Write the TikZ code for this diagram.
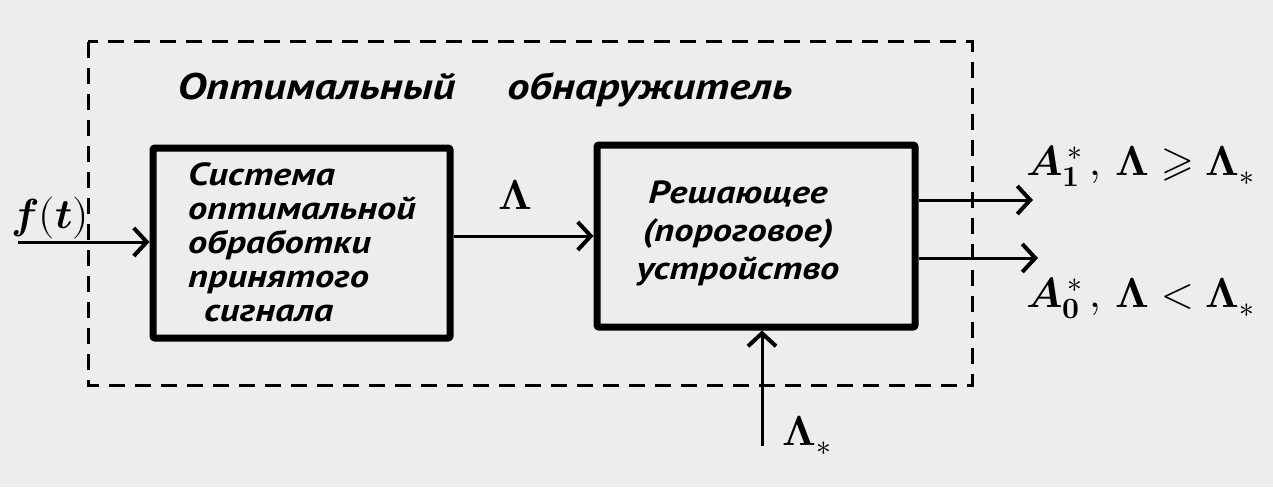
\documentclass[tikz,border=0pt]{standalone}
\usepackage{fontspec}
\usepackage{unicode-math}
\newfontfamily\hand{PT Sans}[FakeStretch=1.2]
\usetikzlibrary{arrows.meta}
\tikzset{
  blk/.style={draw, line width=7pt, rounded corners=2pt, inner sep=0pt},
  dashbox/.style={line width=3pt, dash pattern=on 16pt off 10pt},
  arr/.style={line width=3pt, -{Straight Barb[length=13pt,width=28pt,line width=4pt]}},
  boxtext/.style={font=\hand\bfseries\itshape\fontsize{32}{34}\selectfont},
  lbl/.style={font=\fontsize{42}{46}\selectfont, inner sep=0pt}
}
\begin{document}
\begin{tikzpicture}[x=1pt,y=-1pt]
\useasboundingbox (0,0) rectangle (1273,487);
\fill[white!86!gray] (0,0) rectangle (1273,487);
% dashed frame
\draw[dashbox] (88,42) rectangle (972,385);
\node[font=\hand\bfseries\itshape\fontsize{37}{40}\selectfont, inner sep=0pt] (title) at (485,90) {Оптимальный\hspace{52pt}обнаружитель};
% boxes
\node[blk, minimum width=297pt, minimum height=190pt] (b1) at (301.5,243) {};
\node[boxtext, align=left, inner sep=0pt] (t1) at (302,242) {Система\\оптимальной\\обработки\\принятого\\\hspace*{16pt}сигнала};
\node[blk, minimum width=318pt, minimum height=182pt] (b2) at (756,236) {};
\node[boxtext, align=center, inner sep=0pt] (t2) at (738,233) {Решающее\\[4pt](пороговое)\\[4pt]устройство};
% labels
\node[lbl] (ft) at (50,218) {$\symbfit{f}\symbf{(}\symbfit{t}\symbf{)}$};
\node[lbl] (lam) at (515,195) {$\symbf{\Lambda}$};
\node[lbl, anchor=west] (out1) at (1026,166) {$\symbfit{A}_{\symbf{1}}^{\,\symbf{*}}\,,\,\symbf{\Lambda}\geqslant\symbf{\Lambda}_{\symbf{*}}$};
\node[lbl, anchor=west] (out0) at (1026,298) {$\symbfit{A}_{\symbf{0}}^{\,\symbf{*}}\,,\,\symbf{\Lambda}<\symbf{\Lambda}_{\symbf{*}}$};
\node[lbl, anchor=west] (lamstar) at (782,436) {$\symbf{\Lambda}_{\symbf{*}}$};
% connectors
\coordinate (fin) at (18,242);
\coordinate (o1) at (1033,200);
\coordinate (o2) at (1038,258);
\coordinate (lin) at (762,446);
\draw[arr] (fin) -- (fin -| b1.west);
\draw[arr] (b1.east |- b2.west) -- (b2.west);
\draw[arr] (o1 -| b2.east) -- (o1);
\draw[arr] (o2 -| b2.east) -- (o2);
\draw[arr] (lin) -- (lin |- b2.south);
\end{tikzpicture}
\end{document}
